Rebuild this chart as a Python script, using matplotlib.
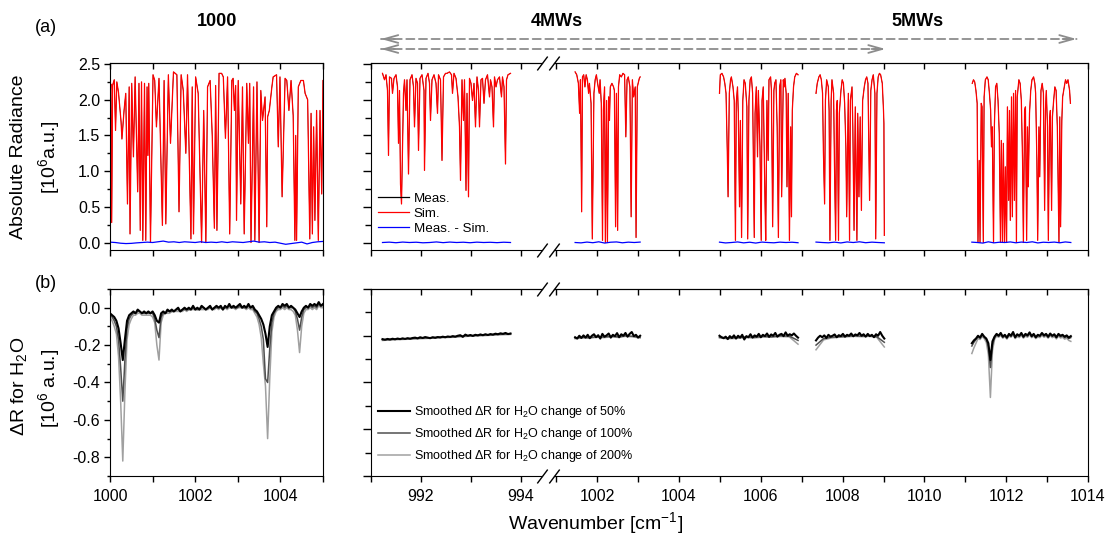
import numpy as np
import matplotlib.pyplot as plt
from matplotlib.ticker import MultipleLocator, FixedLocator, FormatStrFormatter
from matplotlib.lines import Line2D

plt.rcParams['font.family'] = ['Liberation Sans', 'DejaVu Sans']
plt.rcParams['axes.unicode_minus'] = False
plt.rcParams['mathtext.default'] = 'regular'

# ---------------- data ----------------
# (a) radiance, window "1000" : vertices of the spectrum
lt_x = [1000.00, 1000.02, 1000.04, 1000.06, 1000.10, 1000.13, 1000.16, 1000.20, 1000.26, 1000.28,
        1000.33, 1000.37, 1000.41, 1000.45, 1000.47, 1000.51, 1000.55, 1000.59, 1000.65, 1000.68,
        1000.71, 1000.74, 1000.77, 1000.81, 1000.84, 1000.87, 1000.89, 1000.91, 1000.95, 1001.01,
        1001.05, 1001.09, 1001.15, 1001.23, 1001.27, 1001.31, 1001.37, 1001.42, 1001.49, 1001.57,
        1001.62, 1001.67, 1001.72, 1001.78, 1001.82, 1001.90, 1001.93, 1001.96, 1002.01, 1002.07,
        1002.15, 1002.20, 1002.25, 1002.29, 1002.35, 1002.40, 1002.45, 1002.48, 1002.51, 1002.56,
        1002.62, 1002.66, 1002.71, 1002.76, 1002.81, 1002.86, 1002.89, 1002.92, 1002.95, 1002.97,
        1003.01, 1003.07, 1003.11, 1003.15, 1003.21, 1003.25, 1003.28, 1003.31, 1003.37, 1003.40,
        1003.45, 1003.50, 1003.54, 1003.58, 1003.64, 1003.68, 1003.70, 1003.74, 1003.80, 1003.83,
        1003.91, 1003.95, 1003.99, 1004.04, 1004.11, 1004.15, 1004.20, 1004.25, 1004.30, 1004.34,
        1004.36, 1004.38, 1004.42, 1004.48, 1004.54, 1004.58, 1004.64, 1004.69, 1004.72, 1004.75,
        1004.78, 1004.81, 1004.85, 1004.89, 1004.93, 1004.97, 1005.00]
lt_y = [2.05, 2.22, 0.28, 2.20, 2.28, 1.57, 2.25, 2.10, 1.69, 1.45,
        1.85, 2.09, 0.54, 2.18, 0.12, 2.23, 1.20, 2.32, 0.71, 2.23,
        0.17, 2.25, 0.03, 2.23, 0.03, 2.18, 1.22, 2.23, 0.00, 2.35,
        2.27, 1.62, 2.30, 0.24, 2.27, 0.26, 2.35, 1.39, 2.39, 2.35,
        0.43, 2.35, 2.13, 1.25, 2.35, 0.05, 2.18, 0.12, 2.32, 2.09,
        0.00, 1.85, 0.00, 2.18, 2.27, 1.50, 0.20, 2.20, 0.17, 2.37,
        2.37, 2.32, 1.46, 2.32, 0.12, 2.27, 2.30, 1.85, 2.20, 0.31,
        2.27, 0.54, 2.18, 0.12, 2.23, 1.39, 2.23, 0.00, 2.18, 0.03,
        2.25, 0.00, 2.13, 1.71, 2.04, 0.22, 1.76, 1.85, 2.18, 2.32,
        2.35, 1.34, 2.32, 0.64, 2.30, 2.27, 1.85, 2.27, 1.78, 0.03,
        1.50, 0.03, 2.18, 2.27, 2.27, 2.09, 2.00, 0.05, 1.81, 0.12,
        1.62, 0.31, 1.85, 0.03, 1.85, 0.68, 2.27]
res_l = [0.005, 0.0, -0.01, -0.015, -0.012, -0.005, 0.0, 0.005, 0.0, 0.01, 0.02, 0.005, 0.01, 0.0,
         0.01, 0.005, 0.0, 0.01, 0.0, 0.005, 0.0, 0.01, 0.0, 0.01, 0.005, 0.0, 0.01, 0.02, 0.005,
         0.01, 0.0, 0.005, -0.01, -0.025, -0.015, -0.005, 0.005, -0.02, 0.0, 0.01, 0.015]

# (a) radiance, micro-windows
ra_x = [991.23, 991.27, 991.30, 991.33, 991.35, 991.37, 991.41, 991.43, 991.46, 991.50,
        991.53, 991.55, 991.57, 991.59, 991.61, 991.65, 991.67, 991.70, 991.72, 991.75,
        991.78, 991.82, 991.85, 991.87, 991.90, 991.93, 991.95, 991.98, 992.02, 992.06,
        992.07, 992.10, 992.14, 992.17, 992.19, 992.22, 992.26, 992.30, 992.33, 992.35,
        992.39, 992.42, 992.45, 992.49, 992.52, 992.57, 992.61, 992.63, 992.66, 992.70,
        992.74, 992.77, 992.79, 992.82, 992.85, 992.87, 992.90, 992.92, 992.95, 992.97,
        993.00, 993.03, 993.06, 993.09, 993.12, 993.15, 993.17, 993.20, 993.23, 993.26,
        993.29, 993.33, 993.37, 993.39, 993.42, 993.45, 993.47, 993.50, 993.53, 993.57,
        993.61, 993.63, 993.66, 993.69, 993.71, 993.74, 993.79]
ra_y = [2.37, 2.28, 2.35, 2.13, 1.22, 2.32, 2.30, 2.09, 2.30, 2.35,
        2.18, 1.39, 2.13, 0.82, 0.54, 2.09, 2.28, 1.85, 2.28, 0.96,
        2.28, 2.35, 2.18, 1.62, 2.30, 2.23, 1.29, 2.30, 2.35, 2.13,
        1.01, 2.30, 2.37, 2.23, 1.71, 2.28, 2.35, 2.23, 1.81, 2.35,
        2.28, 1.15, 2.32, 2.37, 2.37, 2.39, 2.35, 2.09, 2.37, 2.30,
        2.04, 1.62, 0.87, 2.28, 1.71, 2.28, 0.73, 2.09, 0.64, 2.30,
        2.23, 1.99, 2.23, 1.62, 2.32, 2.13, 1.62, 2.28, 2.30, 1.95,
        2.28, 2.35, 2.04, 2.28, 2.18, 1.62, 2.32, 2.18, 2.28, 2.32,
        2.04, 2.32, 2.18, 1.10, 2.28, 2.35, 2.37]
rb_x = [1001.46, 1001.50, 1001.54, 1001.57, 1001.59, 1001.62, 1001.64, 1001.67, 1001.70, 1001.73,
        1001.76, 1001.79, 1001.81, 1001.85, 1001.88, 1001.92, 1001.95, 1001.98, 1002.01, 1002.05,
        1002.07, 1002.10, 1002.13, 1002.15, 1002.18, 1002.20, 1002.23, 1002.25, 1002.28, 1002.30,
        1002.32, 1002.36, 1002.40, 1002.42, 1002.45, 1002.47, 1002.50, 1002.52, 1002.55, 1002.59,
        1002.63, 1002.67, 1002.70, 1002.73, 1002.76, 1002.80, 1002.83, 1002.86, 1002.89, 1002.93,
        1002.95, 1002.98, 1003.03, 1003.05]
rb_y = [2.39, 2.35, 2.23, 1.81, 2.28, 0.43, 2.32, 2.35, 2.18, 2.35,
        2.28, 2.09, 2.23, 1.95, 0.05, 2.09, 2.28, 2.35, 2.23, 2.09,
        2.28, 1.95, 0.03, 1.85, 2.18, 0.00, 1.99, 0.00, 2.04, 1.71,
        2.18, 2.23, 2.18, 2.13, 0.22, 2.09, 0.17, 2.18, 2.35, 2.32,
        2.37, 2.35, 1.48, 2.28, 2.32, 2.18, 0.36, 2.28, 2.04, 2.18,
        0.07, 2.18, 2.30, 2.32]
rc_x = [1004.99, 1005.01, 1005.05, 1005.09, 1005.12, 1005.15, 1005.18, 1005.20, 1005.23, 1005.26,
        1005.28, 1005.32, 1005.35, 1005.38, 1005.40, 1005.43, 1005.45, 1005.48, 1005.50, 1005.53,
        1005.56, 1005.59, 1005.62, 1005.66, 1005.68, 1005.71, 1005.74, 1005.77, 1005.80, 1005.84,
        1005.86, 1005.89, 1005.92, 1005.94, 1005.98, 1006.01, 1006.03, 1006.06, 1006.10, 1006.12,
        1006.15, 1006.18, 1006.20, 1006.24, 1006.26, 1006.29, 1006.32, 1006.34, 1006.37, 1006.40,
        1006.43, 1006.46, 1006.49, 1006.51, 1006.55, 1006.57, 1006.59, 1006.62, 1006.64, 1006.67,
        1006.70, 1006.73, 1006.75, 1006.77, 1006.80, 1006.83, 1006.87, 1006.91]
rc_y = [2.09, 2.35, 2.37, 2.32, 2.23, 2.09, 1.29, 0.64, 2.09, 2.28,
        2.32, 2.18, 1.99, 0.03, 1.95, 2.18, 1.81, 0.50, 1.71, 0.07,
        1.99, 2.28, 2.23, 1.90, 0.05, 1.99, 2.28, 2.32, 2.09, 0.07,
        1.81, 2.18, 1.20, 2.13, 1.34, 0.03, 1.99, 2.18, 0.68, 0.03,
        1.99, 1.15, 2.28, 2.32, 2.13, 0.22, 2.13, 2.23, 2.28, 1.62,
        0.07, 2.18, 2.28, 0.64, 2.28, 2.18, 2.30, 2.09, 0.78, 2.09,
        0.03, 1.62, 0.36, 1.85, 2.18, 2.32, 2.37, 2.35]
rd_x = [1007.35, 1007.38, 1007.42, 1007.45, 1007.48, 1007.51, 1007.53, 1007.56, 1007.58, 1007.61,
        1007.65, 1007.67, 1007.69, 1007.72, 1007.74, 1007.78, 1007.80, 1007.83, 1007.85, 1007.87,
        1007.90, 1007.92, 1007.96, 1007.99, 1008.02, 1008.05, 1008.08, 1008.10, 1008.14, 1008.17,
        1008.19, 1008.23, 1008.25, 1008.28, 1008.31, 1008.35, 1008.37, 1008.40, 1008.43, 1008.46,
        1008.49, 1008.53, 1008.56, 1008.59, 1008.62, 1008.66, 1008.69, 1008.72, 1008.75, 1008.79,
        1008.81, 1008.84, 1008.87, 1008.90, 1008.93, 1008.97, 1009.00, 1009.01, 1009.02]
rd_y = [2.09, 2.23, 2.32, 2.35, 2.28, 2.09, 1.29, 0.54, 1.99, 2.28,
        2.18, 1.85, 0.03, 1.99, 2.28, 2.09, 1.15, 0.03, 1.85, 1.99,
        0.03, 1.81, 2.13, 2.28, 2.23, 1.95, 1.34, 0.36, 2.09, 0.03,
        1.99, 2.18, 1.62, 0.17, 1.90, 0.03, 1.81, 0.64, 1.76, 0.45,
        1.99, 2.18, 2.28, 2.32, 2.23, 0.59, 2.13, 2.28, 2.35, 2.09,
        0.05, 2.09, 2.32, 2.37, 2.35, 2.23, 1.85, 1.67, 0.10]
re_x = [1011.17, 1011.20, 1011.23, 1011.26, 1011.29, 1011.31, 1011.34, 1011.36, 1011.39, 1011.41,
        1011.44, 1011.46, 1011.49, 1011.53, 1011.56, 1011.59, 1011.62, 1011.64, 1011.66, 1011.69,
        1011.71, 1011.74, 1011.77, 1011.80, 1011.83, 1011.86, 1011.88, 1011.91, 1011.93, 1011.96,
        1011.98, 1012.01, 1012.03, 1012.06, 1012.08, 1012.10, 1012.13, 1012.15, 1012.18, 1012.20,
        1012.23, 1012.25, 1012.27, 1012.31, 1012.34, 1012.37, 1012.40, 1012.42, 1012.45, 1012.47,
        1012.50, 1012.52, 1012.54, 1012.57, 1012.60, 1012.63, 1012.67, 1012.70, 1012.72, 1012.75,
        1012.77, 1012.80, 1012.82, 1012.85, 1012.88, 1012.91, 1012.94, 1012.96, 1012.98, 1013.01,
        1013.03, 1013.06, 1013.08, 1013.11, 1013.13, 1013.16, 1013.19, 1013.22, 1013.25, 1013.29,
        1013.31, 1013.33, 1013.36, 1013.38, 1013.42, 1013.45, 1013.48, 1013.51, 1013.55, 1013.57]
re_y = [2.23, 2.28, 2.25, 2.13, 1.95, 0.00, 1.15, 0.00, 1.95, 1.90,
        0.00, 2.04, 2.28, 2.32, 2.28, 2.09, 1.85, 1.34, 1.62, 0.00,
        1.62, 2.18, 2.23, 1.99, 1.53, 0.00, 1.43, 0.00, 1.39, 0.00,
        1.06, 0.00, 1.90, 0.59, 1.85, 0.31, 2.04, 0.36, 2.09, 0.59,
        2.13, 0.00, 2.04, 2.28, 2.23, 1.99, 1.15, 0.00, 1.85, 1.90,
        0.03, 1.62, 0.78, 1.81, 2.13, 2.28, 2.32, 2.23, 2.09, 1.15,
        0.03, 1.62, 0.92, 2.13, 2.23, 2.09, 0.45, 1.85, 2.13, 1.62,
        0.03, 1.71, 1.85, 0.45, 1.76, 1.99, 2.18, 2.13, 1.62, 0.00,
        1.76, 0.22, 1.71, 2.04, 2.18, 2.28, 2.23, 2.28, 2.13, 1.95]
res_a = [0.0, 0.005, -0.003, 0.006, 0.0, 0.004, -0.004, 0.0, 0.008, -0.002,
         0.006, 0.0, 0.004, -0.003, 0.005, 0.0, 0.003, -0.002, 0.004, 0.0]
res_b = [0.0, -0.005, 0.006, -0.003, 0.01, -0.008, 0.004, 0.008, -0.004, 0.005, 0.0, 0.006]
res_c = [0.005, -0.006, 0.0, 0.008, -0.005, 0.004, -0.008, 0.006, 0.0, -0.004, 0.005, 0.0, 0.004, -0.003]
res_d = [0.006, 0.0, -0.004, 0.005, -0.006, 0.008, 0.0, 0.01, -0.003, 0.005, 0.0, -0.004]
res_e = [0.005, 0.0, -0.008, 0.01, -0.005, 0.004, 0.0, 0.008, -0.004, 0.006, 0.0, 0.01,
         -0.006, 0.004, 0.0, 0.006, -0.004, 0.008, 0.0]

# (b) smoothed dR for H2O, window "1000" (samples every 0.05 cm-1)
b50 = [-0.03, -0.04, -0.05, -0.07, -0.11, -0.19, -0.28, -0.17, -0.07, -0.04,
       -0.03, -0.02, -0.03, -0.01, -0.02, -0.03, -0.02, -0.03, -0.02, -0.03,
       -0.02, -0.04, -0.07, -0.08, -0.03, -0.02, -0.03, -0.01, -0.02, -0.01,
       -0.02, -0.01, 0.00, -0.02, -0.01, 0.00, -0.01, 0.00, -0.01, 0.01,
       -0.01, 0.00, -0.01, 0.01, 0.00, -0.01, 0.00, 0.01, -0.01, 0.00,
       0.01, 0.00, 0.01, -0.01, 0.01, 0.00, 0.02, 0.00, 0.01, 0.00,
       0.01, 0.02, 0.00, 0.01, 0.00, 0.02, 0.00, 0.01, -0.01, -0.02,
       -0.04, -0.06, -0.09, -0.14, -0.21, -0.10, -0.04, -0.02, 0.00, 0.01,
       0.00, 0.02, 0.01, 0.02, 0.00, 0.01, 0.00, -0.01, -0.03, -0.05,
       -0.02, 0.00, 0.01, 0.00, 0.02, 0.01, 0.02, 0.01, 0.03, 0.01,
       0.02]
b100 = [-0.04, -0.05, -0.07, -0.10, -0.17, -0.32, -0.50, -0.28, -0.11, -0.06,
        -0.04, -0.03, -0.03, -0.02, -0.02, -0.03, -0.03, -0.03, -0.03, -0.03,
        -0.03, -0.06, -0.12, -0.16, -0.05, -0.03, -0.03, -0.02, -0.02, -0.02,
        -0.02, -0.01, -0.01, -0.02, -0.01, -0.01, -0.01, -0.01, -0.01, 0.00,
        -0.01, -0.01, -0.01, 0.00, 0.00, -0.01, 0.00, 0.00, -0.01, 0.00,
        0.00, 0.00, 0.00, -0.01, 0.00, 0.00, 0.01, 0.00, 0.00, 0.00,
        0.00, 0.01, 0.00, 0.00, 0.00, 0.01, 0.00, 0.00, -0.02, -0.03,
        -0.06, -0.10, -0.17, -0.38, -0.40, -0.22, -0.08, -0.03, -0.01, 0.00,
        0.00, 0.01, 0.00, 0.01, 0.00, 0.00, 0.00, -0.02, -0.06, -0.12,
        -0.05, -0.01, 0.00, 0.00, 0.01, 0.00, 0.01, 0.00, 0.02, 0.01,
        0.01]
b200 = [-0.05, -0.07, -0.10, -0.14, -0.26, -0.50, -0.82, -0.45, -0.17, -0.09,
        -0.06, -0.04, -0.04, -0.03, -0.03, -0.04, -0.04, -0.04, -0.04, -0.04,
        -0.05, -0.08, -0.20, -0.28, -0.08, -0.04, -0.03, -0.03, -0.03, -0.02,
        -0.02, -0.02, -0.02, -0.02, -0.02, -0.01, -0.02, -0.01, -0.01, -0.01,
        -0.01, -0.01, -0.01, -0.01, -0.01, -0.01, -0.01, 0.00, -0.01, -0.01,
        0.00, -0.01, 0.00, -0.01, 0.00, -0.01, 0.00, 0.00, 0.00, -0.01,
        0.00, 0.00, 0.00, 0.00, -0.01, 0.00, -0.01, -0.01, -0.03, -0.05,
        -0.09, -0.16, -0.30, -0.42, -0.70, -0.38, -0.13, -0.05, -0.02, -0.01,
        -0.01, 0.00, -0.01, 0.00, -0.01, -0.01, -0.02, -0.04, -0.12, -0.24,
        -0.10, -0.03, -0.01, -0.01, 0.00, -0.01, 0.00, -0.01, 0.01, 0.00,
        0.00]

# (b) micro-windows: black = 50 %, then 100 % and 200 %
da50 = [-0.168, -0.171, -0.167, -0.170, -0.166, -0.169, -0.165, -0.168, -0.164, -0.167,
        -0.163, -0.166, -0.162, -0.160, -0.164, -0.158, -0.162, -0.157, -0.160, -0.163,
        -0.158, -0.161, -0.157, -0.159, -0.155, -0.158, -0.154, -0.156, -0.152, -0.155,
        -0.150, -0.147, -0.156, -0.144, -0.150, -0.146, -0.151, -0.145, -0.148, -0.143,
        -0.147, -0.142, -0.146, -0.141, -0.144, -0.139, -0.142, -0.137, -0.140, -0.135,
        -0.141, -0.138]
db50 = [-0.158, -0.165, -0.150, -0.162, -0.148, -0.160, -0.145, -0.163, -0.150, -0.142,
        -0.158, -0.147, -0.165, -0.140, -0.155, -0.148, -0.138, -0.160, -0.145, -0.152,
        -0.136, -0.158, -0.142, -0.150, -0.135, -0.155, -0.140, -0.130, -0.152, -0.145,
        -0.160, -0.150]
dc50 = [-0.150, -0.158, -0.163, -0.155, -0.168, -0.152, -0.162, -0.148, -0.165, -0.150,
        -0.160, -0.145, -0.170, -0.152, -0.158, -0.142, -0.160, -0.148, -0.155, -0.140,
        -0.158, -0.145, -0.152, -0.138, -0.156, -0.143, -0.150, -0.135, -0.155, -0.145,
        -0.140, -0.152, -0.132, -0.150, -0.142, -0.148, -0.138, -0.150, -0.160]
dd50 = [-0.175, -0.160, -0.150, -0.158, -0.148, -0.162, -0.145, -0.155, -0.150, -0.143,
        -0.158, -0.147, -0.152, -0.140, -0.155, -0.145, -0.150, -0.138, -0.153, -0.143,
        -0.148, -0.135, -0.150, -0.142, -0.155, -0.140, -0.152, -0.145, -0.158, -0.142,
        -0.150, -0.130, -0.150, -0.165]
de50 = [-0.190, -0.175, -0.165, -0.150, -0.160, -0.140, -0.155, -0.165, -0.190, -0.280,
        -0.180, -0.155, -0.140, -0.150, -0.135, -0.155, -0.145, -0.160, -0.140, -0.150,
        -0.130, -0.158, -0.142, -0.150, -0.135, -0.155, -0.140, -0.148, -0.132, -0.152,
        -0.140, -0.158, -0.145, -0.150, -0.135, -0.148, -0.140, -0.155, -0.138, -0.150,
        -0.142, -0.158, -0.140, -0.150, -0.145, -0.155, -0.148, -0.160, -0.152]
de100 = [-0.205, -0.185, -0.170, -0.155, -0.162, -0.145, -0.158, -0.170, -0.210, -0.320,
         -0.200, -0.160, -0.145, -0.152, -0.140, -0.158, -0.148, -0.162, -0.145, -0.152,
         -0.135, -0.160, -0.147, -0.153, -0.140, -0.158, -0.145, -0.152, -0.137, -0.155,
         -0.145, -0.160, -0.150, -0.153, -0.140, -0.152, -0.145, -0.158, -0.143, -0.153,
         -0.147, -0.160, -0.145, -0.155, -0.150, -0.160, -0.155, -0.165, -0.160]
de200 = [-0.245, -0.215, -0.190, -0.165, -0.170, -0.155, -0.165, -0.185, -0.250, -0.480,
         -0.230, -0.170, -0.152, -0.158, -0.148, -0.163, -0.155, -0.168, -0.152, -0.158,
         -0.145, -0.165, -0.155, -0.160, -0.148, -0.163, -0.152, -0.158, -0.145, -0.160,
         -0.152, -0.165, -0.157, -0.160, -0.148, -0.158, -0.152, -0.163, -0.150, -0.160,
         -0.155, -0.167, -0.152, -0.162, -0.158, -0.168, -0.163, -0.175, -0.180]
da100 = [-0.172, -0.168, -0.165, -0.162, -0.158, -0.155, -0.150, -0.147, -0.143, -0.140]
da200 = [-0.175, -0.171, -0.168, -0.165, -0.161, -0.158, -0.153, -0.150, -0.146, -0.143]
db100 = [-0.162, -0.158, -0.160, -0.155, -0.157, -0.152, -0.156, -0.150, -0.153, -0.158]
db200 = [-0.166, -0.162, -0.163, -0.158, -0.160, -0.156, -0.159, -0.153, -0.156, -0.162]
dc100 = [-0.158, -0.162, -0.160, -0.156, -0.158, -0.153, -0.155, -0.150, -0.152, -0.175]
dc200 = [-0.162, -0.166, -0.164, -0.160, -0.162, -0.157, -0.158, -0.154, -0.156, -0.195]
dd100 = [-0.200, -0.165, -0.158, -0.155, -0.153, -0.150, -0.152, -0.150, -0.155, -0.185]
dd200 = [-0.225, -0.172, -0.162, -0.158, -0.156, -0.153, -0.155, -0.153, -0.158, -0.210]

# wavenumber span of each micro-window
span_a = (991.23, 993.79)
span_b = (1001.46, 1003.05)
span_c = (1004.99, 1006.91)
span_d = (1007.35, 1009.02)
span_e = (1011.16, 1013.58)

# ---------------- figure ----------------
W, H = 1105, 537
fig = plt.figure(figsize=(W / 100, H / 100), dpi=100)


def box(x0, x1, y0, y1):
    return [x0 / W, 1 - y1 / H, (x1 - x0) / W, (y1 - y0) / H]


ax_a0 = fig.add_axes(box(110, 323, 63, 250))
ax_a1 = fig.add_axes(box(371, 542, 63, 250))
ax_a2 = fig.add_axes(box(554, 1088, 63, 250))
ax_b0 = fig.add_axes(box(110, 323, 289, 476))
ax_b1 = fig.add_axes(box(371, 542, 289, 476))
ax_b2 = fig.add_axes(box(554, 1088, 289, 476))
# the legends of the first segments spill over into the second ones
ax_a1.set_zorder(3)
ax_b1.set_zorder(3)

RED, BLUE = '#ff0000', '#0000ff'
G100, G200 = '#505050', '#a0a0a0'


def grid(span, vals):
    return np.linspace(span[0], span[1], len(vals))


# (a) left window
ax_a0.plot(lt_x, lt_y, color='k', lw=0.4)
ax_a0.plot(lt_x, lt_y, color=RED, lw=0.9)
ax_a0.plot(grid((1000, 1005), res_l), res_l, color=BLUE, lw=0.9)

# (a) micro-windows
segs = [(ax_a1, ra_x, ra_y, span_a, res_a), (ax_a2, rb_x, rb_y, span_b, res_b),
        (ax_a2, rc_x, rc_y, span_c, res_c), (ax_a2, rd_x, rd_y, span_d, res_d),
        (ax_a2, re_x, re_y, span_e, res_e)]
for ax, x, y, sp, rs in segs:
    ax.plot(x, y, color='k', lw=0.4)
    ax.plot(x, y, color=RED, lw=0.9)
    ax.plot(grid(sp, rs), rs, color=BLUE, lw=0.9)

# (b) left window
xb = grid((1000, 1005), b50)
ax_b0.plot(xb, b200, color=G200, lw=1.1)
ax_b0.plot(xb, b100, color=G100, lw=1.1)
ax_b0.plot(xb, b50, color='k', lw=1.5)

# (b) micro-windows
dsegs = [(ax_b1, span_a, da50, da100, da200), (ax_b2, span_b, db50, db100, db200),
         (ax_b2, span_c, dc50, dc100, dc200), (ax_b2, span_d, dd50, dd100, dd200),
         (ax_b2, span_e, de50, de100, de200)]
for ax, sp, v50, v100, v200 in dsegs:
    ax.plot(grid(sp, v200), v200, color=G200, lw=1.1)
    ax.plot(grid(sp, v100), v100, color=G100, lw=1.1)
    ax.plot(grid(sp, v50), v50, color='k', lw=1.5)

# legends
ha = [Line2D([], [], color='k', lw=0.9), Line2D([], [], color=RED, lw=0.9),
      Line2D([], [], color=BLUE, lw=0.9)]
ax_a1.legend(ha, ['Meas.', 'Sim.', 'Meas. - Sim.'], loc='center left',
             bbox_to_anchor=(0.04, 0.195), frameon=False, fontsize=9.6, handlelength=2.3,
             handletextpad=0.4, labelspacing=0.2, borderpad=0, borderaxespad=0)
hb = [Line2D([], [], color='k', lw=1.5), Line2D([], [], color=G100, lw=1.1),
      Line2D([], [], color=G200, lw=1.1)]
ax_b1.legend(hb, ['Smoothed \u0394R for H$_2$O change of 50%',
                  'Smoothed \u0394R for H$_2$O change of 100%',
                  'Smoothed \u0394R for H$_2$O change of 200%'],
             loc='center left', bbox_to_anchor=(0.04, 0.225), frameon=False, fontsize=9,
             handlelength=2.6, handletextpad=0.3, labelspacing=0.48, borderpad=0,
             borderaxespad=0)

# limits
for ax in (ax_a0, ax_b0):
    ax.set_xlim(1000, 1005)
for ax in (ax_a1, ax_b1):
    ax.set_xlim(991, 991 + 171 / 50)
for ax in (ax_a2, ax_b2):
    ax.set_xlim(1014 - 534 / 40.9, 1014)
for ax in (ax_a0, ax_a1, ax_a2):
    ax.set_ylim(-0.105, 2.515)
for ax in (ax_b0, ax_b1, ax_b2):
    ax.set_ylim(-0.9, 0.1)


def xticks(ax, labels):
    ax.xaxis.set_major_locator(MultipleLocator(2))
    ax.xaxis.set_minor_locator(MultipleLocator(1))
    ax.tick_params(axis='x', which='both', direction='out', length=4.5, width=1,
                   top=False, labelbottom=labels, labelsize=11.5, pad=5)
    sec = ax.secondary_xaxis('top')
    sec.xaxis.set_major_locator(MultipleLocator(2))
    sec.xaxis.set_minor_locator(MultipleLocator(1))
    sec.tick_params(axis='x', which='both', direction='in', length=4.5, width=1,
                    labeltop=False)


for ax in (ax_a0, ax_a1, ax_a2):
    xticks(ax, False)
for ax in (ax_b0, ax_b1, ax_b2):
    xticks(ax, True)

for ax in (ax_a0, ax_a1):
    ax.yaxis.set_major_locator(MultipleLocator(0.5))
    ax.yaxis.set_minor_locator(MultipleLocator(0.25))
ax_b0.yaxis.set_major_locator(MultipleLocator(0.2))
ax_b0.yaxis.set_minor_locator(MultipleLocator(0.1))
ax_b1.yaxis.set_major_locator(FixedLocator([0.1, -0.15, -0.4, -0.65, -0.9]))
ax_b1.yaxis.set_minor_locator(FixedLocator([-0.025, -0.275, -0.525, -0.775]))
for ax in (ax_a0, ax_b0):
    ax.yaxis.set_major_formatter(FormatStrFormatter('%.1f'))
    ax.tick_params(axis='y', which='major', direction='out', length=4, width=1,
                   right=False, labelsize=11.5, pad=3)
    ax.tick_params(axis='y', which='minor', direction='out', length=2.5, width=1, right=False)
for ax in (ax_a1, ax_b1):
    ax.tick_params(axis='y', which='major', direction='out', length=6, width=1,
                   right=False, labelleft=False)
    ax.tick_params(axis='y', which='minor', direction='out', length=4, width=1, right=False)
    ax.spines['right'].set_visible(False)
for ax in (ax_a2, ax_b2):
    ax.tick_params(axis='y', which='both', left=False, right=False, labelleft=False)
    ax.spines['left'].set_visible(False)

# break marks
kw = dict(marker=[(-0.75, -1), (0.75, 1)], markersize=10, linestyle='none',
          color='k', mec='k', mew=1, clip_on=False)
for ax in (ax_a1, ax_b1):
    ax.plot([1, 1], [0, 1], transform=ax.transAxes, **kw)
for ax in (ax_a2, ax_b2):
    ax.plot([0, 0], [0, 1], transform=ax.transAxes, **kw)

# dashed range arrows for the 4MWs / 5MWs sets
AC = '#8c8c8c'
for x_end, yy in [(1013.72, 1 - 39 / H), (1009.05, 1 - 49 / H)]:
    ax_a2.annotate('', xy=(x_end, yy), xycoords=(ax_a2.transData, fig.transFigure),
                   xytext=(991.2, yy), textcoords=(ax_a1.transData, fig.transFigure),
                   arrowprops=dict(arrowstyle='-', color=AC, lw=1.3, linestyle=(0, (4.5, 2.5)),
                                   shrinkA=0, shrinkB=0), annotation_clip=False)
    ax_a2.annotate('', xy=(x_end, yy), xycoords=(ax_a2.transData, fig.transFigure),
                   xytext=(-10, 0), textcoords='offset points',
                   arrowprops=dict(arrowstyle='->,head_length=1.0,head_width=0.28', color=AC,
                                   lw=1.3, shrinkA=0, shrinkB=0), annotation_clip=False)
    ax_a1.annotate('', xy=(991.2, yy), xycoords=(ax_a1.transData, fig.transFigure),
                   xytext=(10, 0), textcoords='offset points',
                   arrowprops=dict(arrowstyle='->,head_length=1.0,head_width=0.28', color=AC,
                                   lw=1.3, shrinkA=0, shrinkB=0), annotation_clip=False)

# texts
fig.text(217 / W, 1 - 21 / H, '1000', ha='center', va='center', fontsize=13, fontweight='bold')
fig.text(557 / W, 1 - 21 / H, '4MWs', ha='center', va='center', fontsize=13, fontweight='bold')
fig.text(917 / W, 1 - 21 / H, '5MWs', ha='center', va='center', fontsize=13, fontweight='bold')
fig.text(46 / W, 1 - 28 / H, '(a)', ha='center', va='center', fontsize=13)
fig.text(46 / W, 1 - 283 / H, '(b)', ha='center', va='center', fontsize=13)
fig.text(19 / W, 1 - 157 / H, 'Absolute Radiance', rotation=90, ha='center', va='center', fontsize=14)
fig.text(49 / W, 1 - 157 / H, '[10$^6$a.u.]', rotation=90, ha='center', va='center', fontsize=14)
fig.text(19 / W, 1 - 386 / H, '\u0394R for H$_2$O', rotation=90, ha='center', va='center', fontsize=14)
fig.text(49 / W, 1 - 388 / H, '[10$^6$ a.u.]', rotation=90, ha='center', va='center', fontsize=14)
fig.text(596 / W, 1 - 523 / H, 'Wavenumber [cm$^{-1}$]', ha='center', va='center', fontsize=14)

fig.savefig('out.png', dpi=100)
